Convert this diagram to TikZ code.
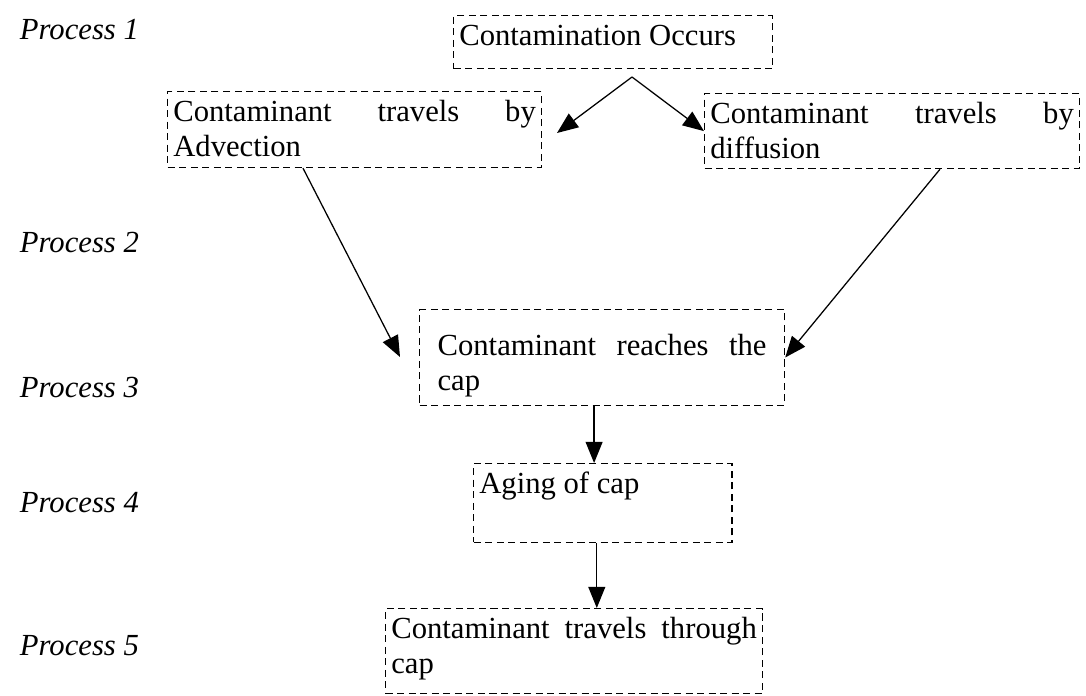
\documentclass[tikz,border=0pt]{standalone}
\usepackage{xcolor}
\usepackage{fontspec}
\setmainfont{Liberation Serif}
\usepackage{tikz}
\usetikzlibrary{arrows.meta,calc}
\tolerance=10000
\hyphenpenalty=10000
\hbadness=10000

\begin{document}
\begin{tikzpicture}[x=0.025cm, y=-0.025cm,
    procbox/.style={draw, rectangle, dash pattern=on 5pt off 3.2pt, line width=1pt,
      anchor=north west, align=justify, inner xsep=4pt, inner ysep=0pt,
      text height=21.3pt, font=\fontsize{21.8}{24.8}\selectfont},
    proclabel/.style={anchor=base west, font=\fontsize{21.8}{24.8}\selectfont\itshape},
    flow/.style={-{Triangle[length=15pt,width=12pt]}, line width=0.9pt}]
            \useasboundingbox (0,0) rectangle (1086,696);

            % Process labels
            \node[proclabel] (p1) at (15,40) {Process 1};
            \node[proclabel] (p2) at (15,252) {Process 2};
            \node[proclabel] (p3) at (15,397) {Process 3};
            \node[proclabel] (p4) at (15,512) {Process 4};
            \node[proclabel] (p5) at (15,655) {Process 5};

            % Contamination
            \node[procbox, text width=218.8pt, text depth=16.3pt] (occur) at (453,15) {Contamination Occurs};

            % Transport pathways
            \node[procbox, text width=257.8pt, text depth=32.6pt] (adv) at (167,91) {Contaminant travels by\linebreak Advection};
            \node[procbox, text width=258.5pt, text depth=31.9pt] (diff) at (704,93) {Contaminant travels by\linebreak diffusion};

            % Cap
            \node[procbox, inner xsep=12.75pt, text width=233.9pt, text height=32.6pt, text depth=35.4pt] (reach) at (419,309) {Contaminant reaches the\linebreak cap};
            \node[procbox, text width=175.6pt, text depth=34.7pt] (aging) at (473,463) {Aging of cap};
            \node[procbox, text width=259.9pt, text depth=39pt] (travel) at (385,608) {Contaminant travels through\linebreak cap};

            % Split point and free arrow ends
            \coordinate (split) at (632,77);
            \coordinate (advend) at (557,133);
            \coordinate (reachin) at (400,357);
            \coordinate (reachout) at ($(reach.south)+(-8,0)$);
            \coordinate (agingout) at ($(aging.south)+(-6,0)$);

            % Arrows
            \draw[flow] (split) -- (advend);
            \draw[flow] (split) -- (diff.west);
            \draw[flow] ($(adv.south west)+(136,0)$) -- (reachin);
            \draw[flow] ($(diff.south west)+(236,0)$) -- (reach.east);
            \draw[flow] (reachout) -- (reachout |- aging.north);
            \draw[flow] (agingout) -- (agingout |- travel.north);
        \end{tikzpicture}
\end{document}
